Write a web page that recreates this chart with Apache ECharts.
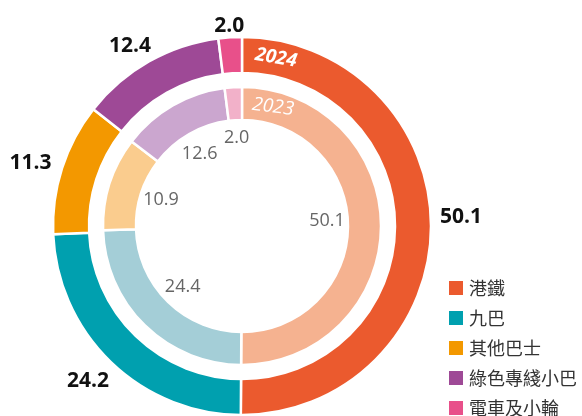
<!DOCTYPE html>
<html>
<head>
	<meta charset="UTF-8">
	<title>交通工具佔比</title>
	<script src="https://cdn.jsdelivr.net/npm/echarts@6/dist/echarts.min.js"></script>
	<style type="text/css">
		html, body { margin: 0; padding: 0; background: #fff; }
		#main { width: 582px; height: 416px; }
	</style>
</head>
<body>
	<div id="main"></div>
	<script type="text/javascript">
		// 類別
		var categories = ['港鐵', '九巴', '其他巴士', '綠色專綫小巴', '電車及小輪'];
		// 2024 外圈
		var values2024 = [50.1, 24.2, 11.3, 12.4, 2.0];
		// 2023 內圈
		var values2023 = [50.1, 24.4, 10.9, 12.6, 2.0];
		var outerColors = ['#EB5A2E', '#00A0AF', '#F39800', '#9E4996', '#E8508A'];
		var innerColors = ['#F5B290', '#A4CED7', '#FACC8E', '#CBA6CF', '#F2B1C9'];

		var ctr = [242, 226];
		var font = '"Open Sans", "Noto Sans", sans-serif';

		function toData(vals, colors) {
			return categories.map(function(name, i) {
				var d = { name: name, value: vals[i] };
				if (colors) d.itemStyle = { color: colors[i] };
				return d;
			});
		}
		var ghost = { color: 'rgba(0,0,0,0)', borderWidth: 0 };

		var myChart = echarts.init(document.getElementById('main'));
		var option = {
			backgroundColor: '#fff',
			animation: false,
			legend: {
				orient: 'vertical',
				left: 447,
				top: 279,
				height: 300,
				padding: 0,
				itemWidth: 16,
				itemHeight: 16,
				itemGap: 12,
				icon: 'rect',
				data: categories,
				textStyle: {
					fontFamily: '"Noto Sans CJK TC", sans-serif',
					fontSize: 18,
					lineHeight: 18,
					color: '#333'
				}
			},
			graphic: [{
				type: 'text',
				x: 276, y: 58,
				rotation: -0.17,
				style: {
					text: '2024', fill: '#fff', fontFamily: font,
					fontSize: 19, fontWeight: 'bold', fontStyle: 'italic',
					align: 'center', verticalAlign: 'middle'
				},
				z: 10
			}, {
				type: 'text',
				x: 273, y: 107,
				rotation: -0.13,
				style: {
					text: '2023', fill: '#fff', fontFamily: font,
					fontSize: 19, fontStyle: 'italic',
					align: 'center', verticalAlign: 'middle'
				},
				z: 10
			}],
			series: [{
				name: '2024',
				type: 'pie',
				center: ctr,
				radius: [153, 189],
				label: { show: false },
				labelLine: { show: false },
				emphasis: { disabled: true },
				itemStyle: { borderColor: '#fff', borderWidth: 2.5 },
				data: toData(values2024, outerColors)
			}, {
				name: '2023',
				type: 'pie',
				center: ctr,
				radius: [106, 139],
				label: { show: false },
				labelLine: { show: false },
				emphasis: { disabled: true },
				itemStyle: { borderColor: '#fff', borderWidth: 2.5 },
				data: toData(values2023, innerColors)
			}, {
				// 外圈數值
				name: '2024標籤',
				type: 'pie',
				center: ctr,
				radius: [200, 232],
				silent: true,
				itemStyle: ghost,
				labelLine: { show: false },
				label: {
					show: true, position: 'inside',
					formatter: function(p) { return p.value.toFixed(1); },
					fontFamily: font, fontSize: 21, fontWeight: 'bold', color: '#111'
				},
				labelLayout: function(p) {
					// 微調個別數值位置
					var adj = [{ dy: -10 }, { dy: -3, dx: -2 }, { dy: 4, dx: -3 }, { dy: 11, dx: -4 }, { dy: 19, dx: 1 }];
					return adj[p.dataIndex];
				},
				data: toData(values2024)
			}, {
				// 內圈數值
				name: '2023標籤',
				type: 'pie',
				center: ctr,
				radius: [62, 102],
				silent: true,
				itemStyle: ghost,
				labelLine: { show: false },
				label: {
					show: true, position: 'inside',
					formatter: function(p) { return p.value.toFixed(1); },
					fontFamily: font, fontSize: 18, color: '#666'
				},
				labelLayout: function(p) {
					var adj = [{ dy: -5 }, {}, {}, { dy: 2 }, { dy: -3 }];
					return adj[p.dataIndex];
				},
				data: toData(values2023)
			}]
		};
		myChart.setOption(option);
	</script>
</body>
</html>
